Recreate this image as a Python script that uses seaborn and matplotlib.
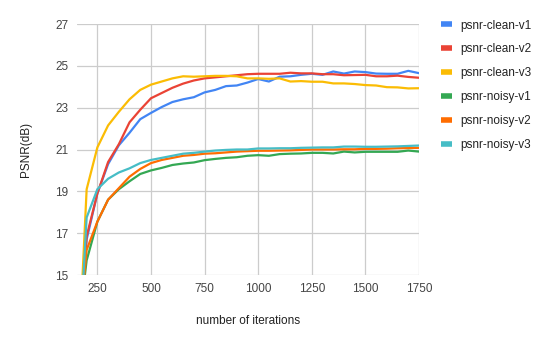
import numpy as np
import pandas as pd
import matplotlib
matplotlib.use("Agg")
import matplotlib.pyplot as plt
import seaborn as sns
from matplotlib.lines import Line2D

iterations = [180, 200, 250, 300, 350, 400, 450, 500, 550, 600, 650, 700, 750, 800, 850, 900,
              950, 1000, 1050, 1100, 1150, 1200, 1250, 1300, 1350, 1400, 1450, 1500, 1550,
              1600, 1650, 1700, 1750]

clean_v1 = [14.0, 16.7, 18.9, 20.3, 21.2, 21.8, 22.45, 22.75, 23.03, 23.27, 23.4, 23.5, 23.73,
            23.85, 24.03, 24.06, 24.2, 24.37, 24.25, 24.48, 24.5, 24.57, 24.62, 24.57, 24.73,
            24.63, 24.73, 24.7, 24.63, 24.62, 24.62, 24.76, 24.65]
clean_v2 = [14.0, 16.85, 18.9, 20.4, 21.25, 22.3, 22.9, 23.45, 23.7, 23.95, 24.15, 24.3, 24.4,
            24.45, 24.5, 24.55, 24.6, 24.62, 24.62, 24.62, 24.67, 24.64, 24.64, 24.6, 24.6,
            24.55, 24.56, 24.57, 24.5, 24.5, 24.53, 24.47, 24.43]
clean_v3 = [14.8, 19.1, 21.1, 22.15, 22.8, 23.4, 23.85, 24.1, 24.25, 24.4, 24.5, 24.48, 24.5,
            24.52, 24.52, 24.5, 24.4, 24.4, 24.38, 24.4, 24.25, 24.27, 24.24, 24.24, 24.16,
            24.16, 24.13, 24.08, 24.06, 23.98, 23.97, 23.92, 23.93]
noisy_v1 = [14.0, 15.7, 17.55, 18.6, 19.1, 19.48, 19.83, 20.0, 20.12, 20.26, 20.33, 20.38, 20.49,
            20.55, 20.6, 20.63, 20.7, 20.73, 20.7, 20.78, 20.8, 20.81, 20.84, 20.84, 20.81,
            20.9, 20.86, 20.89, 20.89, 20.89, 20.89, 20.95, 20.9]
noisy_v2 = [14.0, 16.2, 17.55, 18.6, 19.15, 19.7, 20.07, 20.35, 20.5, 20.6, 20.7, 20.74, 20.8,
            20.82, 20.86, 20.9, 20.92, 20.94, 20.94, 20.95, 20.96, 20.98, 21.0, 21.0, 21.0,
            21.01, 21.01, 21.03, 21.03, 21.04, 21.06, 21.07, 21.08]
noisy_v3 = [14.0, 17.75, 19.1, 19.6, 19.9, 20.1, 20.35, 20.5, 20.6, 20.7, 20.8, 20.84, 20.9,
            20.95, 20.98, 21.0, 21.0, 21.05, 21.05, 21.06, 21.06, 21.08, 21.09, 21.1, 21.1,
            21.14, 21.14, 21.13, 21.13, 21.14, 21.15, 21.17, 21.19]

series_names = ["psnr-clean-v1", "psnr-clean-v2", "psnr-clean-v3",
                "psnr-noisy-v1", "psnr-noisy-v2", "psnr-noisy-v3"]
series_values = [clean_v1, clean_v2, clean_v3, noisy_v1, noisy_v2, noisy_v3]
colors = ["#4285F4", "#EA4335", "#FBBC04", "#34A853", "#FF6D01", "#46BDC6"]

x_ticks = [250, 500, 750, 1000, 1250, 1500, 1750]
y_ticks = [15, 17, 19, 21, 23, 25, 27]

df = pd.concat([pd.DataFrame({"iter": iterations, "psnr": v, "series": n})
                for n, v in zip(series_names, series_values)], ignore_index=True)

sns.set_theme(style="white")
plt.rcParams["font.family"] = ["Liberation Sans", "DejaVu Sans"]

fig = plt.figure(figsize=(5.52, 3.45), dpi=100)
ax = fig.add_axes([77 / 552, 1 - 275 / 345, (419 - 77) / 552, (275 - 24) / 345])

sns.lineplot(data=df, x="iter", y="psnr", hue="series", hue_order=series_names,
             palette=dict(zip(series_names, colors)), linewidth=1.6, ax=ax, legend=False)

ax.set_xlim(155, 1750)
ax.set_ylim(15, 27)
ax.set_xticks(x_ticks)
ax.set_yticks(y_ticks)
ax.grid(True, color="#cccccc", linewidth=0.9)
ax.set_axisbelow(True)
for s in ax.spines.values():
    s.set_visible(False)
ax.tick_params(axis="both", length=0, labelsize=8.5, colors="#444444", pad=6)
ax.set_xlabel("number of iterations", fontsize=8.5, color="#222222", labelpad=14)
ax.set_ylabel("PSNR(dB)", fontsize=8.5, color="#222222", labelpad=17)

handles = [Line2D([0], [0], color=c, lw=4, solid_capstyle="butt") for c in colors]
fig.legend(handles, series_names, loc="upper left", bbox_to_anchor=(430 / 552, 1 - 9 / 345),
           frameon=False, fontsize=8.5, handlelength=1.0, handletextpad=0.7,
           labelspacing=1.0, labelcolor="#222222")

fig.savefig("out.png", dpi=100)
